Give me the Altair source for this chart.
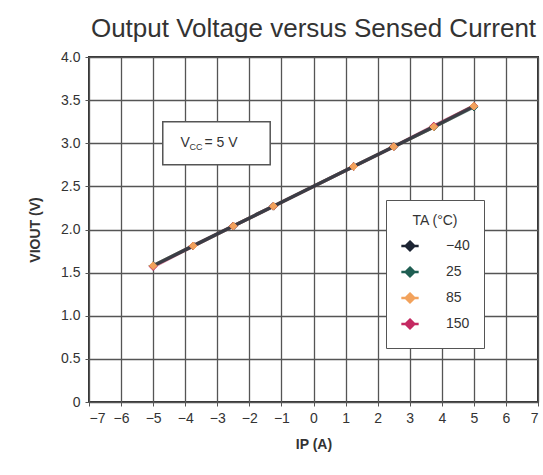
import altair as alt
import pandas as pd

# ---- data ----
temps = ["−40", "25", "85", "150"]
colors = ["#1c2433", "#1f5e52", "#f2a25c", "#c42a62"]
ip = [-5, -3.75, -2.5, -1.25, 1.25, 2.5, 3.75, 5]
v_m40 = [1.58, 1.81, 2.04, 2.27, 2.73, 2.96, 3.19, 3.43]
v_25 = [1.58, 1.81, 2.04, 2.27, 2.73, 2.96, 3.19, 3.42]
v_85 = [1.58, 1.81, 2.04, 2.27, 2.73, 2.96, 3.19, 3.43]
v_150 = [1.57, 1.81, 2.04, 2.27, 2.73, 2.96, 3.20, 3.43]
x_ticks = list(range(-7, 8))
y_ticks = [0, 0.5, 1.0, 1.5, 2.0, 2.5, 3.0, 3.5, 4.0]

FONT = "Liberation Sans"

rows = []
for t, vs in zip(temps, [v_m40, v_25, v_85, v_150]):
    for i, v in zip(ip, vs):
        rows.append({"ip": i, "v": v, "T": t, "TL": t})
df = pd.DataFrame(rows)

# lines: orange underneath, dark on top; points: orange on top
line_order = {"85": 1, "150": 2, "25": 3, "−40": 4}
df_lines = df.assign(o=df["T"].map(line_order)).sort_values(["o", "ip"]).drop(columns="o")
pt_order = {"−40": 1, "25": 2, "150": 3, "85": 4}
df_pts = df.assign(o=df["T"].map(pt_order)).sort_values(["o", "ip"]).drop(columns="o")

xs = alt.Scale(domain=[-7, 7], nice=False)
ys = alt.Scale(domain=[0, 4], nice=False)
cscale = alt.Scale(domain=temps, range=colors)
leg = alt.Legend(
    title="TA (°C)", orient="none", legendX=297, legendY=143,
    fillColor="white", strokeColor="#555", padding=14,
    titleFontSize=14, titleFontWeight="normal", titleFont=FONT,
    titleAnchor="middle", titlePadding=8, titleColor="#333",
    labelFontSize=14, labelFont=FONT, labelColor="#333",
    symbolType="M-1,0H1M0,-0.5L0.5,0L0,0.5L-0.5,0Z",
    symbolSize=300, symbolStrokeWidth=2.5, rowPadding=6,
    labelOffset=26)

xax = alt.Axis(values=x_ticks, title="IP (A)", grid=True, labelOverlap=False,
               labelExpr="replace(datum.label, '-', '−')")
yax = alt.Axis(values=y_ticks, title="VIOUT (V)", grid=True, labelOverlap=False,
               labelExpr="datum.value == 0 ? '0' : format(datum.value, '.1f')")

lines = alt.Chart(df_lines).mark_line(strokeWidth=3.5, opacity=0.6).encode(
    x=alt.X("ip:Q", scale=xs, axis=xax),
    y=alt.Y("v:Q", scale=ys, axis=yax),
    stroke=alt.Stroke("TL:N", scale=cscale, sort=temps, legend=None),
    detail="TL:N",
)
points = alt.Chart(df_pts).mark_point(shape="diamond", filled=False, strokeWidth=1,
                                      size=60, opacity=1).encode(
    x=alt.X("ip:Q", scale=xs, axis=xax),
    y=alt.Y("v:Q", scale=ys, axis=yax),
    color=alt.Color("T:N", scale=cscale, sort=temps, legend=leg),
    fill=alt.Fill("T:N", scale=cscale, sort=temps, legend=leg),
)

# V_CC annotation
box_df = pd.DataFrame({"x1": [-4.7], "x2": [-1.35], "y1": [2.75], "y2": [3.25]})
box = alt.Chart(box_df).mark_rect(fill="white", stroke="#555", strokeWidth=1.5).encode(
    x=alt.X("x1:Q", scale=xs, axis=xax), x2="x2:Q",
    y=alt.Y("y1:Q", scale=ys, axis=yax), y2="y2:Q")
lab_df = pd.DataFrame({"x": [-4.15], "y": [3.0]})
t_v = alt.Chart(lab_df).mark_text(text="V", font=FONT, fontSize=14, color="#333",
                                  align="left", baseline="middle").encode(
    x=alt.X("x:Q", scale=xs, axis=xax), y=alt.Y("y:Q", scale=ys, axis=yax))
t_cc = alt.Chart(lab_df).mark_text(text="CC", font=FONT, fontSize=9, color="#333",
                                   align="left", baseline="middle", dx=9, dy=4).encode(
    x=alt.X("x:Q", scale=xs, axis=xax), y=alt.Y("y:Q", scale=ys, axis=yax))
t_rest = alt.Chart(lab_df).mark_text(text="= 5 V", font=FONT, fontSize=14, color="#333",
                                     align="left", baseline="middle", dx=24).encode(
    x=alt.X("x:Q", scale=xs, axis=xax), y=alt.Y("y:Q", scale=ys, axis=yax))

chart = alt.layer(lines, box, t_v, t_cc, t_rest, points).resolve_legend(
    stroke="independent", color="shared", fill="shared"
).properties(
    width=449, height=345,
    autosize=alt.AutoSizeParams(type="none"),
    padding={"left": 89, "top": 57, "right": 5, "bottom": 73},
    title=alt.Title("Output Voltage versus Sensed Current", font=FONT, fontSize=26,
                    fontWeight="normal", color="#333", anchor="middle", offset=8),
).configure_view(stroke="#333", strokeWidth=2).configure_axis(
    gridColor="#555", gridWidth=1.3, gridOpacity=1, domain=False,
    tickColor="#555", tickSize=4, labelFont=FONT, labelFontSize=14,
    labelColor="#333", titleFont=FONT, titleFontSize=14, titleFontWeight="bold",
    titleColor="#333", labelPadding=5,
).configure_axisY(titlePadding=18).configure_axisX(titlePadding=12)

chart.save("out.html", embed_options={"renderer": "svg", "actions": False})
